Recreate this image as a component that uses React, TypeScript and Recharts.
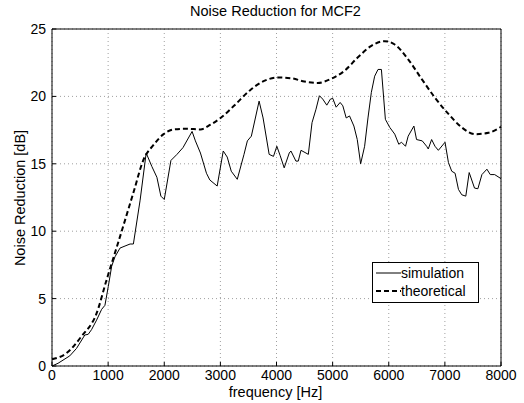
import { LineChart, Line, XAxis, YAxis, CartesianGrid } from 'recharts';

// simulation curve (frequency in Hz, noise reduction in dB)
const simFreq = [
  0, 107, 316, 436, 585, 645, 705, 794, 884, 943, 1003, 1063, 1122, 1212, 1301, 1391, 1450,
  1570, 1678, 1779, 1869, 1940, 2000, 2119, 2227, 2334, 2496, 2555, 2645, 2752, 2812, 2943,
  3051, 3122, 3194, 3301, 3421, 3481, 3552, 3690, 3761, 3869, 3946, 4006, 4066, 4137, 4227,
  4257, 4346, 4388, 4436, 4525, 4567, 4633, 4704, 4764, 4824, 4896, 4961, 5003, 5063, 5134,
  5182, 5242, 5301, 5379, 5439, 5499, 5570, 5630, 5690, 5749, 5809, 5869, 5940, 6018, 6107,
  6179, 6227, 6299, 6346, 6448, 6495, 6597, 6675, 6704, 6764, 6824, 6884, 7003, 7063, 7122,
  7182, 7242, 7301, 7373, 7433, 7528, 7588, 7660, 7749, 7809, 7887, 8000,
];
const simValues = [
  0, 0.2, 0.75, 1.3, 2.3, 2.35, 2.7, 3.4, 4.2, 4.5, 5.9, 7.4, 8.1, 8.75, 8.9, 9.05, 9.05,
  12.3, 15.8, 14.8, 14.0, 12.6, 12.35, 15.25, 15.7, 16.2, 17.4, 16.7, 15.8, 14.3, 13.8, 13.35,
  15.95, 15.5, 14.45, 13.85, 15.7, 16.7, 17.05, 19.65, 18.4, 15.7, 15.55, 16.3, 15.6, 14.7, 15.8,
  15.95, 15.2, 15.2, 16.0, 15.8, 15.7, 18.05, 19.05, 20.05, 19.8, 19.35, 19.8, 19.85, 19.2, 19.55,
  19.3, 18.4, 18.55, 17.8, 16.8, 15.0, 16.3, 18.4, 20.3, 21.5, 22.0, 22.0, 18.3, 17.7, 17.2,
  16.45, 16.6, 16.3, 17.05, 17.8, 16.8, 16.7, 16.3, 16.1, 16.8, 16.3, 16.0, 16.6, 15.1, 14.45,
  14.3, 13.1, 12.7, 12.6, 14.35, 13.2, 13.15, 14.2, 14.6, 14.2, 14.2, 13.9,
];

// theoretical curve
const theoFreq = [
  0, 257, 525, 794, 973, 1212, 1450, 1630, 1809, 1988, 2167, 2406, 2645, 2824, 3003, 3242,
  3540, 3779, 4018, 4257, 4496, 4734, 4973, 5212, 5451, 5690, 5928, 6107, 6346, 6585, 6824,
  7063, 7301, 7540, 7779, 8000,
];
const theoValues = [
  0.5, 0.95, 2.2, 3.9, 6.4, 9.6, 12.85, 15.3, 16.4, 17.2, 17.55, 17.6, 17.55, 17.9, 18.4, 19.3,
  20.5, 21.15, 21.4, 21.35, 21.1, 21.0, 21.3, 21.9, 22.9, 23.75, 24.1, 23.85, 22.75, 21.3, 19.9,
  18.7, 17.7, 17.2, 17.3, 17.75,
];

const xTicks = [0, 1000, 2000, 3000, 4000, 5000, 6000, 7000, 8000];
const yTicks = [0, 5, 10, 15, 20, 25];

const simData = simFreq.map((f, i) => ({ f, v: simValues[i] }));
const theoData = theoFreq.map((f, i) => ({ f, v: theoValues[i] }));

const font = '"Liberation Sans", Arial, Helvetica, sans-serif';

function LegendBox() {
  return (
    <div
      style={{
        position: 'absolute',
        left: 372,
        top: 262,
        width: 103,
        height: 37,
        border: '1.5px solid #000',
        background: '#fff',
        padding: '1px 1px',
        fontFamily: font,
        fontSize: 14,
        lineHeight: '18px',
        color: '#000',
      }}
    >
      <div style={{ display: 'flex', alignItems: 'center' }}>
        <svg width={27} height={10}>
          <line x1={2} y1={5} x2={27} y2={5} stroke="#000" strokeWidth={1} />
        </svg>
        <span>simulation</span>
      </div>
      <div style={{ display: 'flex', alignItems: 'center' }}>
        <svg width={27} height={10}>
          <line x1={2} y1={5} x2={27} y2={5} stroke="#000" strokeWidth={2} strokeDasharray="5 3" />
        </svg>
        <span>theoretical</span>
      </div>
    </div>
  );
}

export default function App() {
  return (
    <div style={{ position: 'absolute', left: 0, top: 0, width: 524, height: 403, background: '#fff' }}>
      <LineChart
        width={524}
        height={403}
        margin={{ top: 29, right: 23, bottom: 0, left: 0 }}
        style={{ position: 'absolute', left: 0, top: 0 }}
      >
        <CartesianGrid stroke="#888" strokeDasharray="1 3" strokeWidth={0.8} xAxisId="b" yAxisId="l" />
        <XAxis
          xAxisId="b"
          dataKey="f"
          type="number"
          domain={[0, 8000]}
          ticks={xTicks}
          allowDuplicatedCategory={false}
          height={37}
          stroke="#000"
          tickSize={-4}
          tickMargin={8}
          tick={{ fill: '#000', fontSize: 14, fontFamily: font }}
        />
        <XAxis
          xAxisId="t"
          orientation="top"
          dataKey="f"
          type="number"
          domain={[0, 8000]}
          ticks={xTicks}
          height={1}
          mirror
          stroke="#000"
          tickSize={4}
          tick={false}
        />
        <YAxis
          yAxisId="l"
          type="number"
          domain={[0, 25]}
          ticks={yTicks}
          width={52}
          stroke="#000"
          tickSize={-4}
          tickMargin={10}
          tick={{ fill: '#000', fontSize: 14, fontFamily: font }}
        />
        <YAxis
          yAxisId="r"
          orientation="right"
          type="number"
          domain={[0, 25]}
          ticks={yTicks}
          width={1}
          mirror
          stroke="#000"
          tickSize={4}
          tick={false}
        />
        <Line
          xAxisId="b"
          yAxisId="l"
          data={simData}
          dataKey="v"
          name="simulation"
          type="linear"
          stroke="#000"
          strokeWidth={1}
          dot={false}
          isAnimationActive={false}
        />
        <Line
          xAxisId="b"
          yAxisId="l"
          data={theoData}
          dataKey="v"
          name="theoretical"
          type="monotone"
          stroke="#000"
          strokeWidth={2}
          strokeDasharray="5 3"
          dot={false}
          isAnimationActive={false}
        />
      </LineChart>
      <div
        style={{
          position: 'absolute',
          top: 3,
          left: 52,
          width: 447,
          textAlign: 'center',
          fontFamily: font,
          fontSize: 14.5,
        }}
      >
        Noise Reduction for MCF2
      </div>
      <div
        style={{
          position: 'absolute',
          left: 52,
          width: 447,
          top: 384,
          textAlign: 'center',
          fontFamily: font,
          fontSize: 14.5,
        }}
      >
        frequency [Hz]
      </div>
      <div
        style={{
          position: 'absolute',
          left: 20,
          top: 198,
          transform: 'translate(-50%, -50%) rotate(-90deg)',
          whiteSpace: 'nowrap',
          fontFamily: font,
          fontSize: 14.5,
        }}
      >
        Noise Reduction [dB]
      </div>
      <LegendBox />
    </div>
  );
}
